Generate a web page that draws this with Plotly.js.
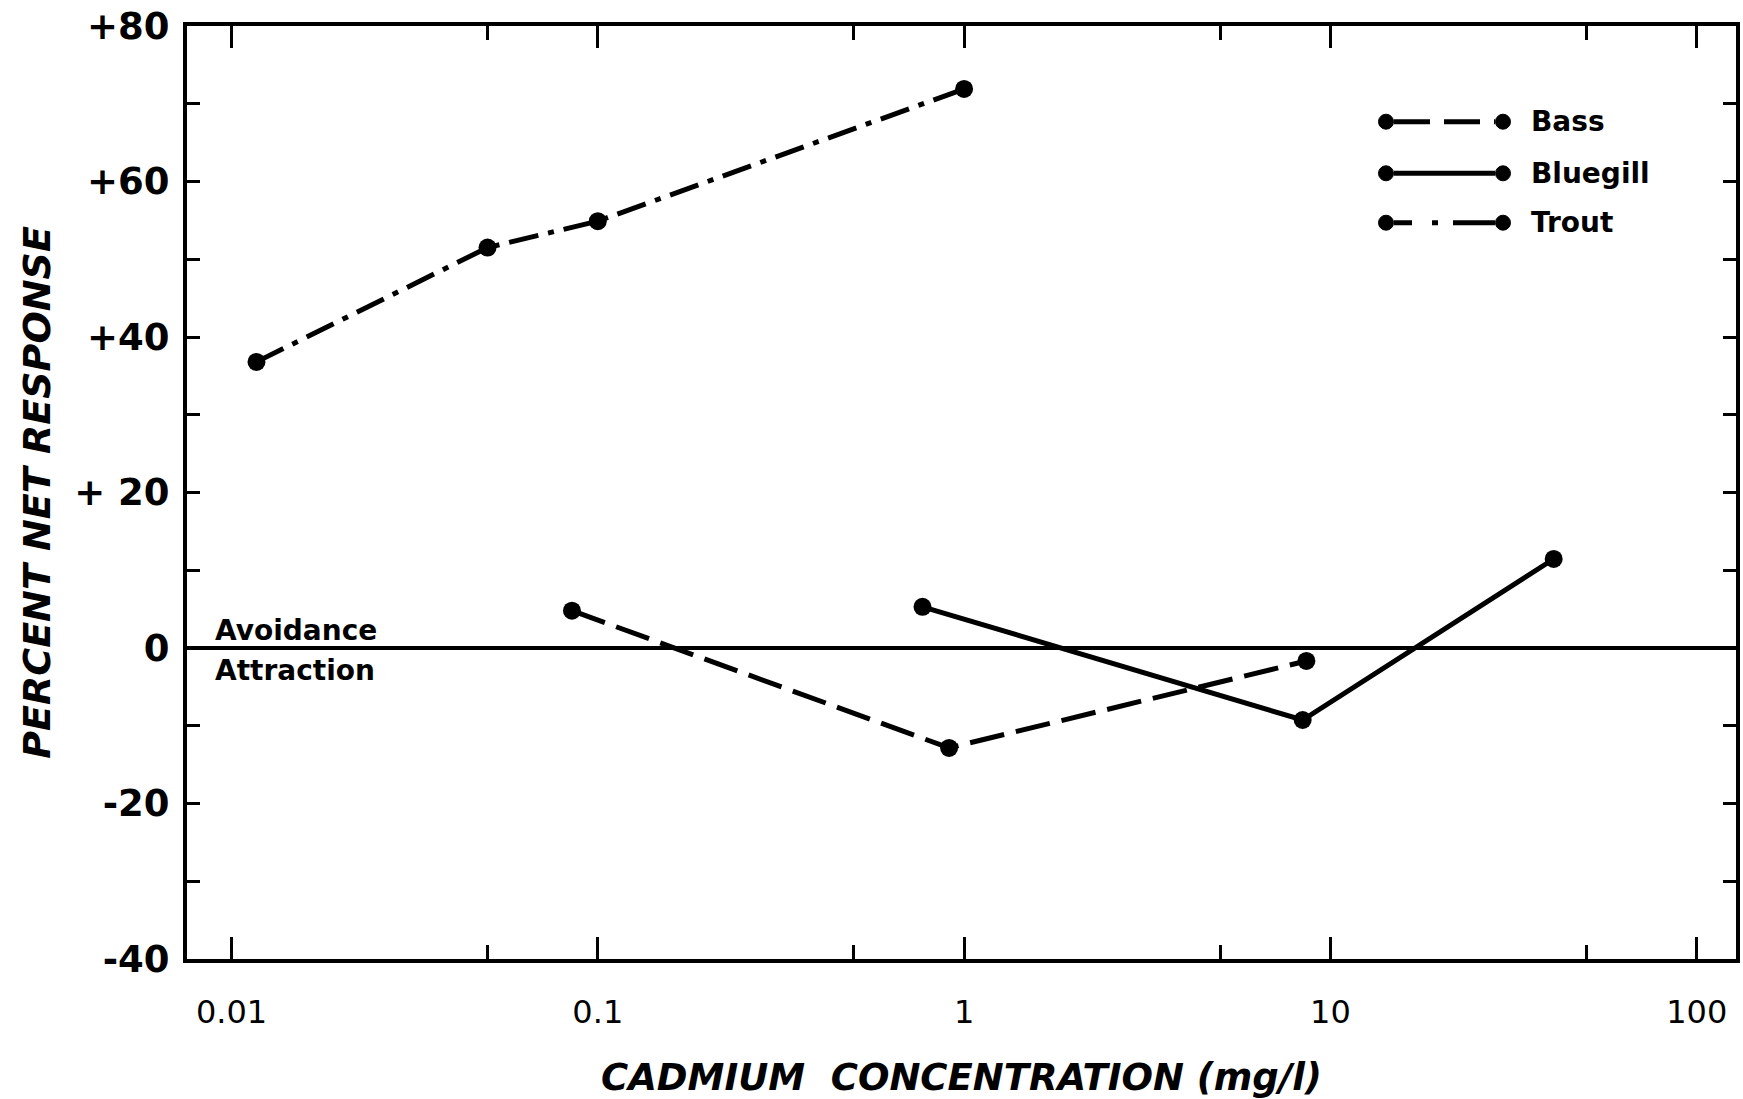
<!DOCTYPE html>
<html>
<head>
<meta charset="utf-8">
<script src="https://cdn.plot.ly/plotly-3.0.1.min.js"></script>
<style>
  html, body { margin: 0; padding: 0; background: #fff; }
  #chart { width: 1743px; height: 1099px; }
</style>
</head>
<body>
<div id="chart"></div>
<script>
// ---- data ----
const seriesNames = ["Bass", "Bluegill", "Trout"];
const bassConc = [0.085, 0.91, 8.6];
const bassResp = [4.8, -12.85, -1.67];
const bluegillConc = [0.77, 8.4, 40.7];
const bluegillResp = [5.3, -9.26, 11.45];
const troutConc = [0.0117, 0.05, 0.1, 1.0];
const troutResp = [36.8, 51.5, 54.9, 71.9];

const xTickVals = [0.01, 0.1, 1, 10, 100];
const xTickText = ["0.01", "0.1", "1", "10", "100"];
const xMinorVals = [0.05, 0.5, 5, 50];
const yTickVals = [-40, -20, 0, 20, 40, 60, 80];
const yTickText = ["-40", "-20", "0", "+ 20", "+40", "+60", "+80"];

// ---- styles ----
const dashes = { Bass: "35px,12px", Bluegill: "solid", Trout: "30px,10px,6px,10px" };
const legendDashes = { Bass: "36px,14px", Bluegill: "solid", Trout: "18px,20px,6px,15px,60px" };
const FONT = "DejaVu Sans";

const W = 1743, H = 1099;
const M = { l: 187, r: 7, t: 26, b: 140 };
const PW = W - M.l - M.r, PH = H - M.t - M.b;
const px2x = p => (p - M.l) / PW;
const py2y = p => (H - M.b - p) / PH;

const series = [
  { name: "Bass", x: bassConc, y: bassResp },
  { name: "Bluegill", x: bluegillConc, y: bluegillResp },
  { name: "Trout", x: troutConc, y: troutResp }
];

const traces = series.map(s => ({
  type: "scatter",
  mode: "lines+markers",
  name: s.name,
  x: s.x,
  y: s.y,
  line: { color: "#000", width: 5, dash: dashes[s.name] },
  marker: { color: "#000", size: 18 },
  showlegend: false,
  hoverinfo: "x+y+name"
}));

// ---- hand-drawn style legend (markers at both ends) ----
const shapes = [];
const annotations = [];
const legendRows = [121.7, 173.3, 222.7];
const legL = 1386, legR = 1503, legText = 1529;
seriesNames.forEach((nm, i) => {
  const yy = py2y(legendRows[i]);
  shapes.push({
    type: "line", xref: "paper", yref: "paper",
    x0: px2x(legL + 8), x1: px2x(legR - 8), y0: yy, y1: yy,
    line: { color: "#000", width: 5, dash: legendDashes[nm] }
  });
  [legL, legR].forEach(cx => {
    shapes.push({
      type: "circle", xref: "paper", yref: "paper",
      xsizemode: "pixel", ysizemode: "pixel",
      xanchor: px2x(cx), yanchor: yy,
      x0: -7.5, x1: 7.5, y0: -7.5, y1: 7.5,
      fillcolor: "#000", line: { color: "#000", width: 1 }
    });
  });
  annotations.push({
    xref: "paper", yref: "paper", x: px2x(legText), y: yy,
    xanchor: "left", yanchor: "middle", showarrow: false,
    text: nm, font: { family: FONT, size: 28, color: "#000", weight: "bold" }
  });
});

annotations.push({
  xref: "paper", yref: "y", x: px2x(213), y: 2.2,
  xanchor: "left", yanchor: "middle", showarrow: false,
  text: "Avoidance", font: { family: FONT, size: 28, color: "#000", weight: "bold" }
});
annotations.push({
  xref: "paper", yref: "y", x: px2x(213), y: -2.85,
  xanchor: "left", yanchor: "middle", showarrow: false,
  text: "Attraction", font: { family: FONT, size: 28, color: "#000", weight: "bold" }
});

const layout = {
  width: W, height: H,
  margin: M,
  paper_bgcolor: "#fff",
  plot_bgcolor: "#fff",
  showlegend: false,
  font: { family: FONT, color: "#000" },
  xaxis: {
    type: "log",
    range: [-2.1215, 2.1073],
    tickvals: xTickVals,
    ticktext: xTickText,
    ticks: "inside",
    ticklen: 22,
    tickwidth: 3,
    tickcolor: "#000",
    minor: { tickvals: xMinorVals, ticks: "inside", ticklen: 14, tickwidth: 3, tickcolor: "#000", showgrid: false },
    showline: true, linewidth: 4, linecolor: "#000",
    mirror: "ticks",
    showgrid: false, zeroline: false,
    ticklabelstandoff: 22,
    tickfont: { family: FONT, size: 32, color: "#000" },
    title: {
      text: "CADMIUM  CONCENTRATION (mg/l)",
      font: { family: FONT, size: 37, color: "#000", weight: "bold", style: "italic" },
      standoff: 36
    }
  },
  yaxis: {
    range: [-40, 80],
    tickvals: yTickVals,
    ticktext: yTickText,
    ticks: "inside",
    ticklen: 13,
    tickwidth: 3,
    tickcolor: "#000",
    minor: { dtick: 10, tick0: 0, ticks: "inside", ticklen: 13, tickwidth: 3, tickcolor: "#000", showgrid: false },
    showline: true, linewidth: 4, linecolor: "#000",
    mirror: "ticks",
    showgrid: false,
    zeroline: true, zerolinewidth: 4, zerolinecolor: "#000",
    ticklabelstandoff: 6,
    tickfont: { family: FONT, size: 37, color: "#000", weight: "bold" },
    title: {
      text: "PERCENT NET RESPONSE",
      font: { family: FONT, size: 38, color: "#000", weight: "bold", style: "italic" },
      standoff: 13
    }
  },
  shapes: shapes,
  annotations: annotations
};

Plotly.newPlot("chart", traces, layout, { staticPlot: true, displayModeBar: false });
</script>
</body>
</html>
